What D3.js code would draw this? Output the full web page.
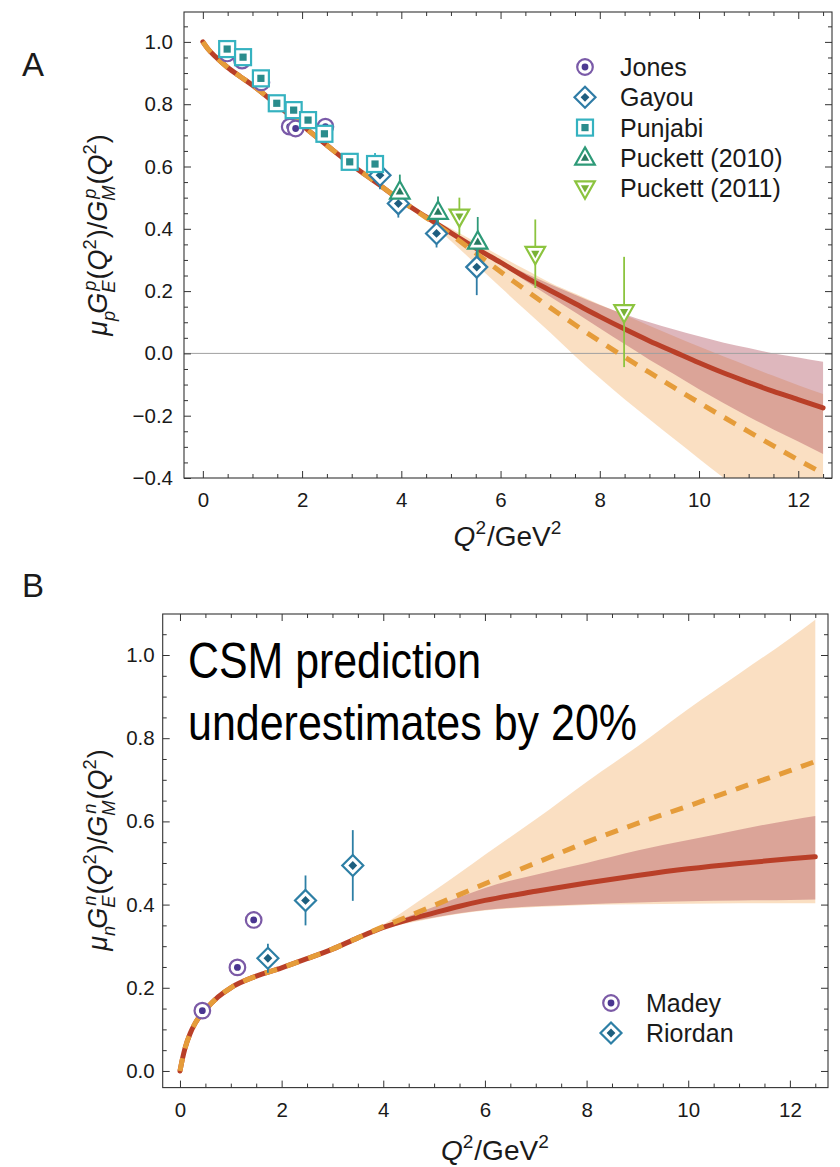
<!DOCTYPE html>
<html>
<head>
<meta charset="utf-8">
<script src="https://cdn.jsdelivr.net/npm/d3@7"></script>
<style>
  body { margin: 0; background: #fff; }
  svg { display: block; }
</style>
</head>
<body>
<svg id="chart" width="840" height="1167"></svg>
<script>
// ---------- Proton: mu_p G_E^p / G_M^p ----------
const protonQ2     = [0, 0.1, 0.25, 0.5, 0.75, 1, 1.5, 2, 2.5, 3, 3.5, 4, 4.5, 5, 5.5, 6, 6.5, 7, 7.5, 8, 8.5, 9, 9.5, 10, 10.5, 11, 11.5, 12, 12.5];
const protonSolid  = [1.0, 0.978, 0.953, 0.918, 0.889, 0.861, 0.797, 0.732, 0.668, 0.605, 0.548, 0.49, 0.438, 0.387, 0.338, 0.292, 0.245, 0.202, 0.16, 0.118, 0.078, 0.04, 0.005, -0.03, -0.063, -0.093, -0.122, -0.148, -0.175];
const protonDashed = [1.0, 0.978, 0.953, 0.918, 0.889, 0.861, 0.797, 0.732, 0.668, 0.605, 0.548, 0.49, 0.436, 0.381, 0.322, 0.262, 0.204, 0.147, 0.092, 0.039, -0.012, -0.061, -0.11, -0.158, -0.205, -0.251, -0.297, -0.342, -0.385];

const protonBandQ2      = [4, 4.5, 5, 5.5, 6, 6.5, 7, 7.5, 8, 8.5, 9, 9.5, 10, 10.5, 11, 11.5, 12, 12.5];
const protonRedUpper    = [0.49, 0.438, 0.389, 0.342, 0.298, 0.257, 0.222, 0.188, 0.155, 0.126, 0.10, 0.077, 0.055, 0.034, 0.017, 0.0, -0.013, -0.027];
const protonRedLower    = [0.49, 0.438, 0.385, 0.334, 0.286, 0.233, 0.182, 0.132, 0.081, 0.030, -0.02, -0.067, -0.115, -0.16, -0.203, -0.244, -0.283, -0.323];
const protonPeachUpper  = [0.49, 0.441, 0.401, 0.357, 0.312, 0.269, 0.227, 0.192, 0.157, 0.123, 0.089, 0.055, 0.022, -0.01, -0.041, -0.072, -0.102, -0.13];
const protonPeachLower  = [0.49, 0.431, 0.361, 0.287, 0.212, 0.139, 0.067, -0.008, -0.079, -0.147, -0.211, -0.275, -0.338, -0.40, -0.461, -0.522, -0.582, -0.64];

const jonesQ2    = [0.49, 0.79, 1.18, 1.75, 1.87, 2.47];
const jonesRatio = [0.963, 0.94, 0.87, 0.728, 0.722, 0.728];
const jonesErr   = [0.01, 0.01, 0.012, 0.015, 0.015, 0.017];

const gayouQ2    = [3.57, 3.94, 4.71, 5.52];
const gayouRatio = [0.572, 0.481, 0.385, 0.277];
const gayouErr   = [0.045, 0.045, 0.045, 0.09];

const punjabiQ2    = [0.49, 0.81, 1.17, 1.49, 1.83, 2.12, 2.45, 2.96, 3.47];
const punjabiRatio = [0.977, 0.951, 0.883, 0.803, 0.781, 0.749, 0.705, 0.615, 0.608];
const punjabiErr   = [0.01, 0.012, 0.015, 0.025, 0.025, 0.025, 0.03, 0.02, 0.035];

const puckett10Q2    = [3.97, 4.74, 5.54];
const puckett10Ratio = [0.519, 0.454, 0.358];
const puckett10Err   = [0.055, 0.05, 0.08];

const puckett11Q2    = [5.17, 6.70, 8.49];
const puckett11Ratio = [0.44, 0.32, 0.133];
const puckett11Err   = [0.06, 0.11, 0.177];

// ---------- Neutron: mu_n G_E^n / G_M^n ----------
const neutronQ2     = [0, 0.05, 0.1, 0.2, 0.3, 0.5, 0.75, 1, 1.5, 2, 2.5, 3, 3.5, 4, 4.5, 5, 5.5, 6, 7, 8, 9, 10, 11, 12, 12.5];
const neutronSolid  = [0, 0.03, 0.055, 0.09, 0.115, 0.147, 0.178, 0.2, 0.228, 0.248, 0.27, 0.293, 0.32, 0.345, 0.364, 0.38, 0.396, 0.41, 0.432, 0.452, 0.47, 0.486, 0.499, 0.51, 0.515];
const neutronDashed = [0, 0.03, 0.055, 0.09, 0.115, 0.147, 0.178, 0.2, 0.228, 0.248, 0.27, 0.293, 0.32, 0.347, 0.372, 0.398, 0.424, 0.45, 0.50, 0.55, 0.595, 0.637, 0.68, 0.722, 0.744];

const neutronBandQ2     = [3.5, 4, 4.5, 5, 5.5, 6, 7, 8, 9, 10, 11, 12, 12.5];
const neutronPeachUpper = [0.32, 0.352, 0.392, 0.433, 0.476, 0.52, 0.605, 0.695, 0.78, 0.87, 0.955, 1.04, 1.085];
const neutronPeachLower = [0.32, 0.342, 0.356, 0.368, 0.378, 0.386, 0.394, 0.399, 0.401, 0.402, 0.403, 0.403, 0.403];
const neutronRedUpper   = [0.32, 0.347, 0.372, 0.395, 0.418, 0.44, 0.472, 0.50, 0.53, 0.555, 0.58, 0.603, 0.613];
const neutronRedLower   = [0.32, 0.343, 0.358, 0.369, 0.379, 0.387, 0.396, 0.401, 0.405, 0.408, 0.41, 0.411, 0.412];

const madeyQ2    = [0.44, 1.13, 1.45];
const madeyRatio = [0.145, 0.249, 0.363];
const madeyErr   = [0, 0, 0];

const riordanQ2    = [1.73, 2.47, 3.40];
const riordanRatio = [0.271, 0.41, 0.494];
const riordanErr   = [0.035, 0.06, 0.085];

// ---------- Axis ticks ----------
const protonYTicks  = [-0.4, -0.2, 0.0, 0.2, 0.4, 0.6, 0.8, 1.0];
const neutronYTicks = [0.0, 0.2, 0.4, 0.6, 0.8, 1.0];
const q2Ticks       = [0, 2, 4, 6, 8, 10, 12];

const annotationLines = ["CSM prediction", "underestimates by 20%"];

// ---------- Styling ----------
const FONT = '"Liberation Sans", Arial, Helvetica, sans-serif';
const RED = "#b93f28", ORANGE = "#e59c3a";
const PEACH_FILL = "#f5c48f", PEACH_OP = 0.55;
const RED_FILL = "#ad4a5a", RED_OP = 0.4;
const INK = "#1a1a1a", FRAME = "#333";

const svg = d3.select("#chart").attr("font-family", FONT);
svg.append("rect").attr("width", 840).attr("height", 1167).attr("fill", "#fff");

const zip = (xs, ys) => xs.map((q, i) => [q, ys[i]]);
const zip3 = (xs, lo, hi) => xs.map((q, i) => [q, lo[i], hi[i]]);

function minorTicks(lo, hi, step, majorStep) {
  return d3.range(Math.round(lo / step), Math.round(hi / step) + 1)
    .map(k => +(k * step).toFixed(4))
    .filter(v => Math.abs(v / majorStep - Math.round(v / majorStep)) > 1e-6);
}

function styleAxis(sel, fs) {
  sel.select(".domain").remove();
  sel.attr("font-family", null).attr("font-size", null);
  sel.selectAll(".tick line").attr("stroke", FRAME).attr("stroke-width", 1);
  sel.selectAll(".tick text").attr("font-family", FONT).attr("font-size", fs).attr("fill", INK);
}

function drawAxes(g, x, y, o) {
  const [xl, xr] = x.range(), [yb, yt] = y.range();
  const yf = d3.format(".1f"), xf = d3.format("d");
  const fs = o.tickFont;
  g.append("g").attr("transform", `translate(${xl},0)`)
    .call(d3.axisLeft(y).tickValues(o.yMajor).tickSize(-7).tickPadding(o.yPad).tickFormat(yf)).call(styleAxis, fs);
  g.append("g").attr("transform", `translate(${xl},0)`)
    .call(d3.axisLeft(y).tickValues(o.yMinor).tickSize(-4).tickFormat("")).call(styleAxis, fs);
  g.append("g").attr("transform", `translate(${xr},0)`)
    .call(d3.axisRight(y).tickValues(o.yMajor).tickSize(-7).tickFormat("")).call(styleAxis, fs);
  g.append("g").attr("transform", `translate(${xr},0)`)
    .call(d3.axisRight(y).tickValues(o.yMinor).tickSize(-4).tickFormat("")).call(styleAxis, fs);
  g.append("g").attr("transform", `translate(0,${yb})`)
    .call(d3.axisBottom(x).tickValues(o.xMajor).tickSize(-7).tickPadding(o.xPad).tickFormat(xf)).call(styleAxis, fs);
  g.append("g").attr("transform", `translate(0,${yb})`)
    .call(d3.axisBottom(x).tickValues(o.xMinor).tickSize(-4).tickFormat("")).call(styleAxis, fs);
  g.append("g").attr("transform", `translate(0,${yt})`)
    .call(d3.axisTop(x).tickValues(o.xMajor).tickSize(-7).tickFormat("")).call(styleAxis, fs);
  g.append("g").attr("transform", `translate(0,${yt})`)
    .call(d3.axisTop(x).tickValues(o.xMinor).tickSize(-4).tickFormat("")).call(styleAxis, fs);
  g.append("rect").attr("x", xl).attr("y", yt).attr("width", xr - xl).attr("height", yb - yt)
    .attr("fill", "none").attr("stroke", FRAME).attr("stroke-width", 1.1);
}

// Open marker with white interior and a small filled core, as used for each data set
function drawMarker(g, shape, cx, cy, stroke, core) {
  const sw = 2.2;
  if (shape === "circle") {
    g.append("circle").attr("cx", cx).attr("cy", cy).attr("r", 7.8).attr("fill", "#fff").attr("stroke", stroke).attr("stroke-width", sw);
    g.append("circle").attr("cx", cx).attr("cy", cy).attr("r", 3.4).attr("fill", core);
  } else if (shape === "diamond") {
    const dia = r => `M${cx},${cy - r}L${cx + r},${cy}L${cx},${cy + r}L${cx - r},${cy}Z`;
    g.append("path").attr("d", dia(10.5)).attr("fill", "#fff").attr("stroke", stroke).attr("stroke-width", sw);
    g.append("path").attr("d", dia(4.4)).attr("fill", core);
  } else if (shape === "square") {
    g.append("rect").attr("x", cx - 8).attr("y", cy - 8).attr("width", 16).attr("height", 16)
      .attr("fill", "#fff").attr("stroke", stroke).attr("stroke-width", sw);
    g.append("rect").attr("x", cx - 3.6).attr("y", cy - 3.6).attr("width", 7.2).attr("height", 7.2).attr("fill", core);
  } else {
    const s = shape === "up" ? 1 : -1;
    const tri = k => `M${cx},${cy - s * 10.5 * k}L${cx + 9.8 * k},${cy + s * 6.8 * k}L${cx - 9.8 * k},${cy + s * 6.8 * k}Z`;
    g.append("path").attr("d", tri(1)).attr("fill", "#fff").attr("stroke", stroke).attr("stroke-width", sw).attr("stroke-linejoin", "miter");
    g.append("path").attr("d", tri(0.42)).attr("fill", core);
  }
}

// Text with italic symbols, subscripts and superscripts laid out piece by piece
function mathText(g, pieces, fs) {
  let x = 0;
  pieces.forEach(p => {
    if (p.sub !== undefined || p.sup !== undefined) {
      let w = 0;
      if (p.sub !== undefined) {
        const t = g.append("text").attr("x", x).attr("y", 0.3 * fs).attr("font-size", 0.68 * fs)
          .attr("font-style", p.upright ? "normal" : "italic").attr("fill", INK).text(p.sub);
        w = Math.max(w, t.node().getComputedTextLength());
      }
      if (p.sup !== undefined) {
        const t = g.append("text").attr("x", x + (p.supShift || 0)).attr("y", -0.42 * fs).attr("font-size", 0.68 * fs)
          .attr("font-style", p.upright ? "normal" : "italic").attr("fill", INK).text(p.sup);
        w = Math.max(w, t.node().getComputedTextLength() + (p.supShift || 0));
      }
      x += w + 1;
    } else {
      const t = g.append("text").attr("x", x).attr("y", 0).attr("font-size", fs)
        .attr("font-style", p.italic ? "italic" : "normal").attr("fill", INK).text(p.t);
      x += t.node().getComputedTextLength() + (p.kern || 0);
    }
  });
  return x;
}

function centeredMath(parent, transform, pieces, fs) {
  const outer = parent.append("g").attr("transform", transform);
  const inner = outer.append("g");
  const w = mathText(inner, pieces, fs);
  inner.attr("transform", `translate(${-w / 2},0)`);
}

const xTitle = [{ t: "Q", italic: true }, { sup: "2", upright: true }, { t: "/GeV" }, { sup: "2", upright: true }];
const ratioTitle = n => [
  { t: "μ", italic: true }, { sub: n }, { t: " ", kern: -4 },
  { t: "G", italic: true }, { sub: "E", sup: n, supShift: 2 },
  { t: "(" }, { t: "Q", italic: true }, { sup: "2", upright: true }, { t: ")" }, { t: "/" },
  { t: "G", italic: true }, { sub: "M", sup: n, supShift: 2 },
  { t: "(" }, { t: "Q", italic: true }, { sup: "2", upright: true }, { t: ")" }
];

function drawPanel(o) {
  const x = d3.scaleLinear().domain(o.xDomain).range(o.xRange);
  const y = d3.scaleLinear().domain(o.yDomain).range(o.yRange);
  const g = svg.append("g");
  const clipId = "clip-" + o.id;
  g.append("clipPath").attr("id", clipId).append("rect")
    .attr("x", o.xRange[0]).attr("y", o.yRange[1])
    .attr("width", o.xRange[1] - o.xRange[0]).attr("height", o.yRange[0] - o.yRange[1]);
  const plot = g.append("g").attr("clip-path", `url(#${clipId})`);

  const area = d3.area().x(d => x(d[0])).y0(d => y(d[1])).y1(d => y(d[2])).curve(d3.curveMonotoneX);
  plot.append("path").datum(zip3(o.bandQ2, o.peachLower, o.peachUpper)).attr("d", area)
    .attr("fill", PEACH_FILL).attr("fill-opacity", PEACH_OP);
  plot.append("path").datum(zip3(o.bandQ2, o.redLower, o.redUpper)).attr("d", area)
    .attr("fill", RED_FILL).attr("fill-opacity", RED_OP);

  if (o.zeroLine) {
    plot.append("line").attr("x1", o.xRange[0]).attr("x2", o.xRange[1]).attr("y1", y(0)).attr("y2", y(0))
      .attr("stroke", "#a0a0a0").attr("stroke-width", 1);
  }

  const line = d3.line().x(d => x(d[0])).y(d => y(d[1])).curve(d3.curveMonotoneX);
  plot.append("path").datum(zip(o.q2, o.solid)).attr("d", line)
    .attr("fill", "none").attr("stroke", RED).attr("stroke-width", 5).attr("stroke-linecap", "round");
  plot.append("path").datum(zip(o.q2, o.dashed)).attr("d", line)
    .attr("fill", "none").attr("stroke", ORANGE).attr("stroke-width", 5).attr("stroke-dasharray", "13,10");

  // error bars first, markers above
  o.series.forEach(s => {
    s.q2.forEach((q, i) => {
      if (s.err[i] > 0) {
        plot.append("line").attr("x1", x(q)).attr("x2", x(q))
          .attr("y1", y(s.val[i] - s.err[i])).attr("y2", y(s.val[i] + s.err[i]))
          .attr("stroke", s.stroke).attr("stroke-width", 1.8);
      }
    });
  });
  o.series.forEach(s => {
    s.q2.forEach((q, i) => drawMarker(plot, s.shape, x(q), y(s.val[i]), s.stroke, s.core));
  });

  drawAxes(g, x, y, o);

  // legend
  o.series.forEach((s, i) => {
    const ly = o.legend.y + i * o.legend.step;
    drawMarker(g, s.shape, o.legend.x, ly, s.stroke, s.core);
    g.append("text").attr("x", o.legend.x + 35).attr("y", ly + 9).attr("font-size", 25)
      .attr("fill", INK).text(s.name);
  });

  // titles
  centeredMath(g, `translate(${(o.xRange[0] + o.xRange[1]) / 2},${o.xTitleY})`, xTitle, 28);
  centeredMath(g, `translate(107,${o.yTitleY}) rotate(-90)`, ratioTitle(o.sym), 27);
  g.append("text").attr("x", 22).attr("y", o.letterY).attr("font-size", 33).attr("fill", INK).text(o.letter);
  return { g, x, y };
}

drawPanel({
  id: "proton", letter: "A", letterY: 76, sym: "p",
  xDomain: [-0.38, 12.68], xRange: [184, 832],
  yDomain: [-0.4, 1.096], yRange: [478, 12],
  q2: protonQ2, solid: protonSolid, dashed: protonDashed,
  bandQ2: protonBandQ2, peachUpper: protonPeachUpper, peachLower: protonPeachLower,
  redUpper: protonRedUpper, redLower: protonRedLower, zeroLine: true,
  yMajor: protonYTicks, yMinor: minorTicks(-0.4, 1.05, 0.05, 0.2),
  xMajor: q2Ticks, xMinor: minorTicks(0, 12.5, 0.5, 2),
  tickFont: 20.5, yPad: 11, xPad: 14, xTitleY: 546, yTitleY: 235,
  legend: { x: 585, y: 67, step: 30.3 },
  series: [
    { name: "Jones", shape: "circle", q2: jonesQ2, val: jonesRatio, err: jonesErr, stroke: "#7a5aa8", core: "#4d3a92" },
    { name: "Gayou", shape: "diamond", q2: gayouQ2, val: gayouRatio, err: gayouErr, stroke: "#2f7ca6", core: "#1f5e80" },
    { name: "Punjabi", shape: "square", q2: punjabiQ2, val: punjabiRatio, err: punjabiErr, stroke: "#35b2c0", core: "#2a8c8c" },
    { name: "Puckett (2010)", shape: "up", q2: puckett10Q2, val: puckett10Ratio, err: puckett10Err, stroke: "#2e9a78", core: "#277a60" },
    { name: "Puckett (2011)", shape: "down", q2: puckett11Q2, val: puckett11Ratio, err: puckett11Err, stroke: "#8cc43f", core: "#79b236" }
  ]
});

const panelB = drawPanel({
  id: "neutron", letter: "B", letterY: 597, sym: "n",
  xDomain: [-0.34, 12.75], xRange: [162.7, 828],
  yDomain: [-0.04, 1.0986], yRange: [1087.6, 614],
  q2: neutronQ2, solid: neutronSolid, dashed: neutronDashed,
  bandQ2: neutronBandQ2, peachUpper: neutronPeachUpper, peachLower: neutronPeachLower,
  redUpper: neutronRedUpper, redLower: neutronRedLower, zeroLine: false,
  yMajor: neutronYTicks, yMinor: minorTicks(0, 1.05, 0.05, 0.2),
  xMajor: q2Ticks, xMinor: minorTicks(0, 12.5, 0.5, 2),
  tickFont: 20.5, yPad: 8, xPad: 15, xTitleY: 1160, yTitleY: 850,
  legend: { x: 611, y: 1003, step: 30 },
  series: [
    { name: "Madey", shape: "circle", q2: madeyQ2, val: madeyRatio, err: madeyErr, stroke: "#7b5aa6", core: "#4a3690" },
    { name: "Riordan", shape: "diamond", q2: riordanQ2, val: riordanRatio, err: riordanErr, stroke: "#2d7fa5", core: "#1d5f7f" }
  ]
});

// annotation in the neutron panel
const noteWidths = [293, 449];
annotationLines.forEach((t, i) => {
  panelB.g.append("text").attr("x", 188).attr("y", 678 + i * 62)
    .attr("font-family", '"Liberation Sans Narrow", "Liberation Sans", Arial, sans-serif')
    .attr("font-size", 50).attr("fill", "#000")
    .attr("textLength", noteWidths[i]).attr("lengthAdjust", "spacingAndGlyphs")
    .text(t);
});
</script>
</body>
</html>
